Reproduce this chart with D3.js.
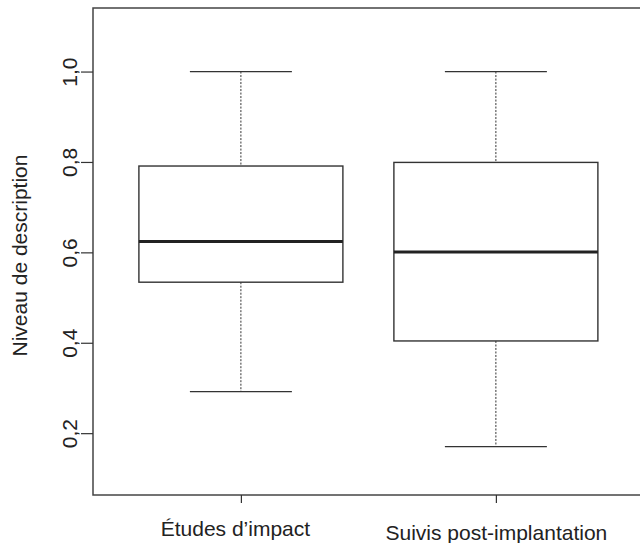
<!DOCTYPE html>
<html><head><meta charset="utf-8">
<script src="https://cdn.jsdelivr.net/npm/d3@7"></script>
<style>body{margin:0;background:#fff}svg{display:block}text{font-family:"Liberation Sans",Arial,sans-serif;fill:#222}</style>
</head><body>
<script>
const categories = ["Études d\u2019impact", "Suivis post-implantation"];
const whiskerLow = [0.292, 0.170];
const q1 = [0.534, 0.404];
const median = [0.624, 0.601];
const q3 = [0.791, 0.799];
const whiskerHigh = [1.0, 1.0];
const yTicks = [0.2, 0.4, 0.6, 0.8, 1.0];
const yLabel = "Niveau de description";

const W = 640, H = 543;
const L = 93, T = 8, R = 642, B = 495;
const FS = "21px";
const svg = d3.select("body").append("svg").attr("width", W).attr("height", H);
const x = d3.scaleLinear().domain([0.42, 2.573]).range([L, R]);
const y = d3.scaleLinear().domain([0.0632, 1.1406]).range([B, T]);
const fmt = d => d3.format(".1f")(d).replace(".", ",");
const stroke = "#333";

// frame
svg.append("rect").attr("x", L).attr("y", T).attr("width", R - L).attr("height", B - T)
  .attr("fill", "none").attr("stroke", "#444").attr("stroke-width", 1.5);

// y axis
const ya = svg.append("g").attr("transform", `translate(${L},0)`)
  .call(d3.axisLeft(y).tickValues(yTicks).tickSize(12).tickFormat(fmt));
ya.select(".domain").remove();
ya.selectAll("line").attr("stroke", stroke).attr("stroke-width", 1.2);
ya.selectAll("text").attr("x", 0).attr("dy", 0).attr("y", 0).style("font-size", FS)
  .attr("text-anchor", "middle")
  .attr("transform", "translate(-16,0) rotate(-90)");

// x axis
const xa = svg.append("g").attr("transform", `translate(0,${B})`)
  .call(d3.axisBottom(x).tickValues([1, 2]).tickSize(8).tickFormat((d, i) => categories[i]));
xa.select(".domain").remove();
xa.selectAll("line").attr("stroke", stroke).attr("stroke-width", 1.2);
xa.selectAll("text").style("font-size", FS).attr("dy", 0)
  .attr("x", (d, i) => i === 0 ? -6 : 0)
  .attr("y", (d, i) => i === 0 ? 41 : 45);

// y label
svg.append("text").attr("transform", `translate(27,${(T + B) / 2 + 4}) rotate(-90)`)
  .attr("text-anchor", "middle")
  .style("font-size", FS).text(yLabel);

const bw = 0.8, cw = 0.4;
categories.forEach((c, i) => {
  const cx = i + 1;
  const g = svg.append("g");
  g.append("line").attr("x1", x(cx)).attr("x2", x(cx)).attr("y1", y(whiskerHigh[i])).attr("y2", y(q3[i]))
    .attr("stroke", stroke).attr("stroke-width", 1).attr("stroke-dasharray", "2,1.5");
  g.append("line").attr("x1", x(cx)).attr("x2", x(cx)).attr("y1", y(q1[i])).attr("y2", y(whiskerLow[i]))
    .attr("stroke", stroke).attr("stroke-width", 1).attr("stroke-dasharray", "2,1.5");
  [whiskerHigh[i], whiskerLow[i]].forEach(v => {
    g.append("line").attr("x1", x(cx - cw / 2)).attr("x2", x(cx + cw / 2)).attr("y1", y(v)).attr("y2", y(v))
      .attr("stroke", stroke).attr("stroke-width", 1.3);
  });
  g.append("rect").attr("x", x(cx - bw / 2)).attr("width", x(cx + bw / 2) - x(cx - bw / 2))
    .attr("y", y(q3[i])).attr("height", y(q1[i]) - y(q3[i]))
    .attr("fill", "#fff").attr("stroke", stroke).attr("stroke-width", 1.4);
  g.append("line").attr("x1", x(cx - bw / 2)).attr("x2", x(cx + bw / 2)).attr("y1", y(median[i])).attr("y2", y(median[i]))
    .attr("stroke", "#222").attr("stroke-width", 3);
});
</script>
</body></html>
